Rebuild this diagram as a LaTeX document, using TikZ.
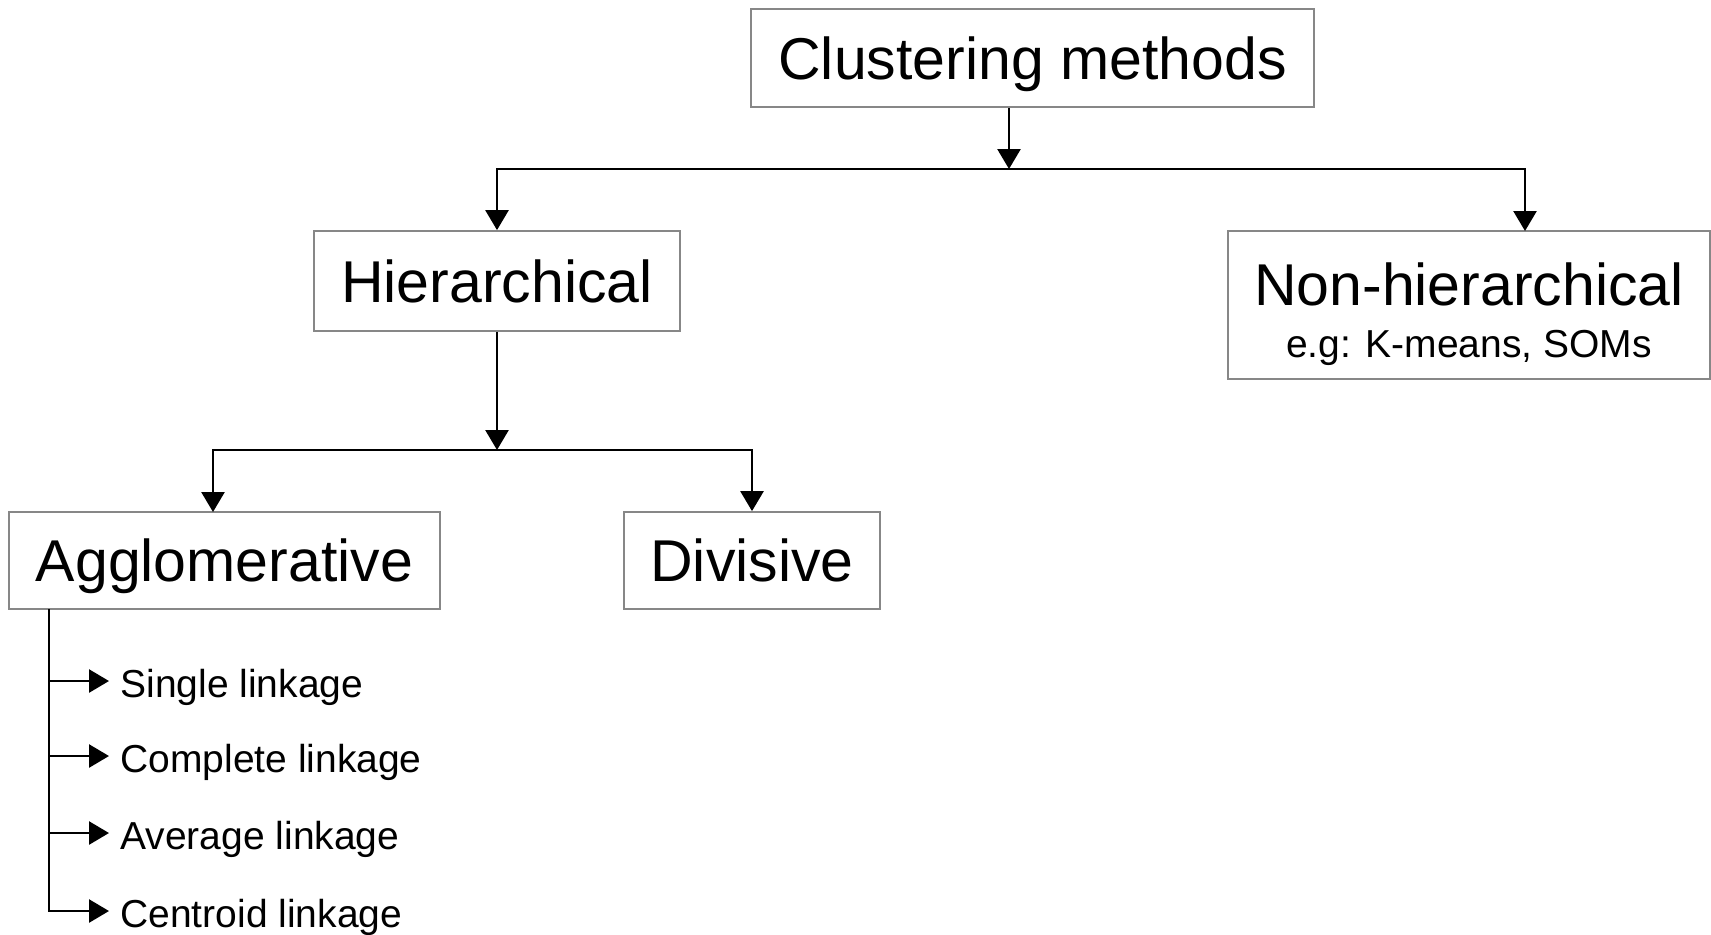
\documentclass[tikz,border=0pt]{standalone}
\usepackage{fontspec}
\setmainfont{Liberation Sans}
\usetikzlibrary{arrows.meta,positioning,calc}
\definecolor{boxline}{RGB}{135,135,135}

\begin{document}
\begin{tikzpicture}[x=0.5pt,y=-0.5pt,
  box/.style={draw=boxline,line width=0.9pt,inner sep=0pt,text height=21.2pt,text depth=0pt,font=\fontsize{29.5}{35}\selectfont},
  arr/.style={line width=1.3pt,-{Triangle[length=10pt,width=11.5pt]}},
  link/.style={line width=1.3pt,line cap=rect},
  small/.style={font=\fontsize{19.5}{23}\selectfont,inner sep=0pt}]
 \useasboundingbox (0,0) rectangle (1711,934);
 % boxes
 \node[box,minimum width=281.5pt,minimum height=49pt] (clust) at (1032.5,58) {Clustering methods};
 \node[box,minimum width=183pt,minimum height=50pt] (hier) at (497,281) {Hierarchical};
 \node[box,minimum width=241pt,minimum height=74pt] (nonhier) at (1469,305) {};
 \node[box,draw=none,anchor=base] (nhtitle) at (1469,305) {Non-hierarchical};
 \node[small,anchor=base] (nheg) at (1469,357) {e.g: K-means, SOMs};
 \node[box,minimum width=215.5pt,minimum height=48.5pt] (agglo) at (224.5,560.5) {Agglomerative};
 \node[box,minimum width=128pt,minimum height=48.5pt] (div) at (752,560.5) {Divisive};
 % connectors
 \coordinate (j1) at (1009,169);
 \coordinate (nhtop) at (1525,231);
 \draw[arr] (clust.south -| j1) -- (j1);
 \draw[arr] (j1) -| (hier.north);
 \draw[arr] (j1) -| (nhtop);
 \coordinate (j2) at (497,450);
 \coordinate (agtop) at (213,512);
 \draw[arr] (hier.south) -- (j2);
 \draw[arr] (j2) -| (agtop);
 \draw[arr] (j2) -| (div.north);
 % linkage list
 \coordinate (lk) at (49,911);
 \draw[link] (agglo.south -| lk) -- (lk);
 \foreach \y/\t [count=\i] in {681/Single linkage,756/Complete linkage,833/Average linkage,911/Centroid linkage} {
   \coordinate (b\i) at (49,\y);
   \node[small,anchor=base west] (l\i) at (120,\y+16) {\t};
   \draw[arr,shorten >=5.5pt] (b\i) -- (b\i -| l\i.west);
 }
\end{tikzpicture}
\end{document}
